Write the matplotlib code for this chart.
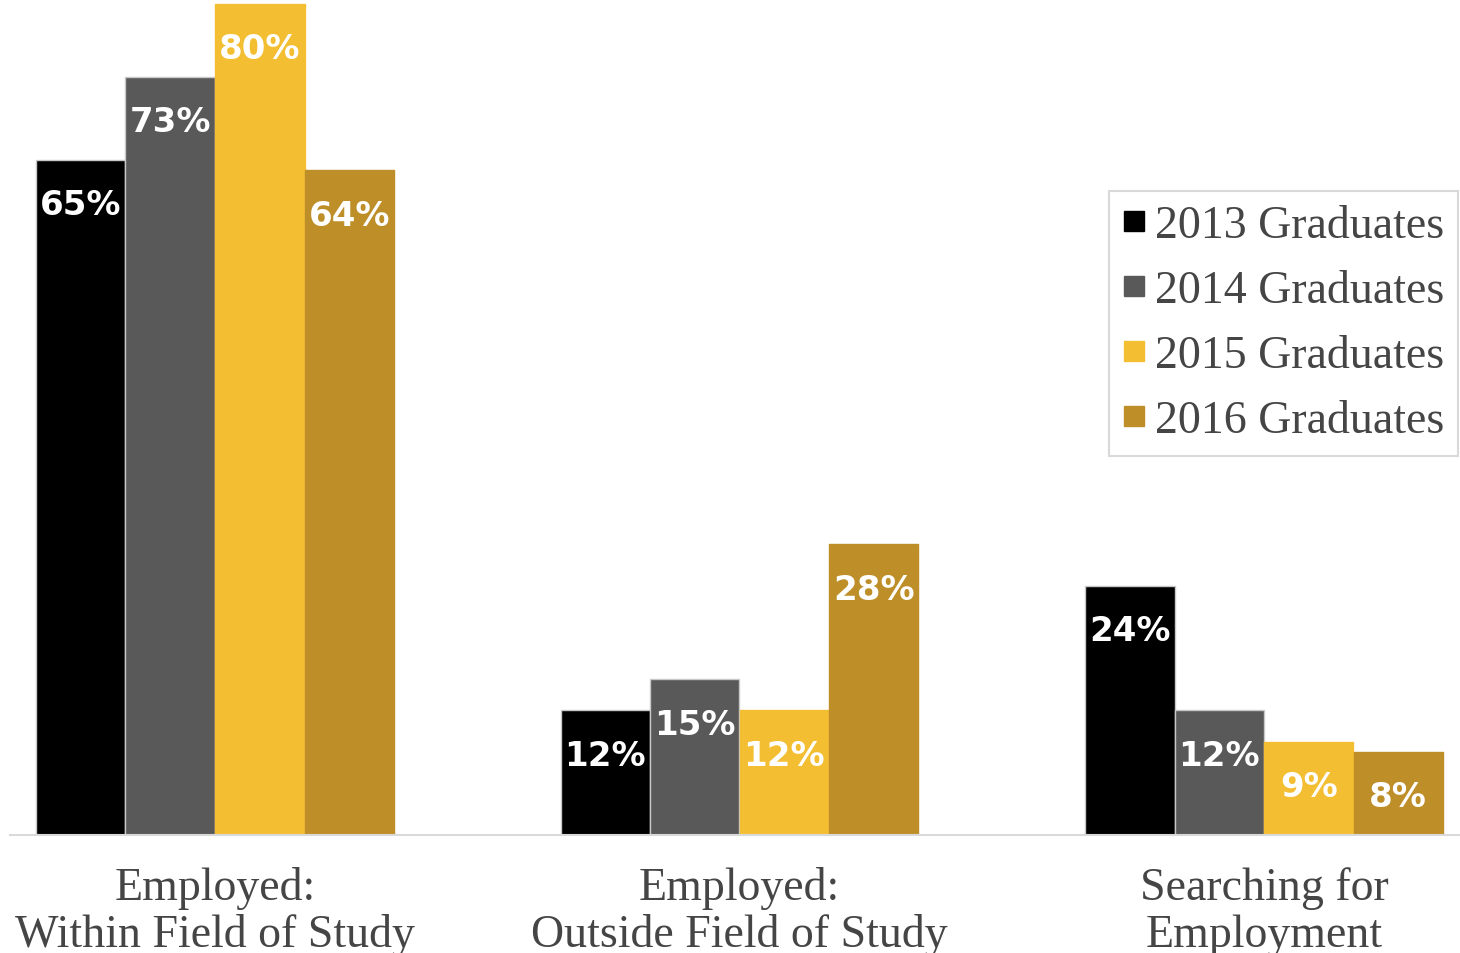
import matplotlib
matplotlib.use("Agg")
import matplotlib.pyplot as plt
from matplotlib.lines import Line2D
import numpy as np

# ---- data ----
categories = [["Employed:", "Within Field of Study"],
              ["Employed:", "Outside Field of Study"],
              ["Searching for", "Employment"]]
series_names = ["2013 Graduates", "2014 Graduates", "2015 Graduates", "2016 Graduates"]
values_2013 = [65, 12, 24]
values_2014 = [73, 15, 12]
values_2015 = [80, 12, 9]
values_2016 = [64, 28, 8]
all_values = [values_2013, values_2014, values_2015, values_2016]

colors = ["#000000", "#595959", "#F4BE32", "#BE8E28"]
edgecolors = ["#c8c8c8", "#c8c8c8", "#F4BE32", "#BE8E28"]

W, H = 1460, 954
fig = plt.figure(figsize=(W / 100, H / 100), dpi=100)
base_px = 836
ax = fig.add_axes([10 / W, (H - base_px) / H, 1450 / W, base_px / H])

px_per_unit = 524.5
left_px = 215 - 10
ax.set_xlim(-left_px / px_per_unit, (1450 - left_px) / px_per_unit)
ax.set_ylim(0, 80 * base_px / 831)

x = np.arange(len(categories))
bw = 89.5 / px_per_unit
for i, (vals, c, ec, name) in enumerate(zip(all_values, colors, edgecolors, series_names)):
    pos = x + (i - 1.5) * bw
    bars = ax.bar(pos, vals, width=bw, color=c, edgecolor=ec, linewidth=1.0, label=name, zorder=2)
    for b, v in zip(bars, vals):
        ax.annotate(f"{v}%", xy=(b.get_x() + b.get_width() / 2, v), xytext=(0, -45 * 0.72),
                    textcoords="offset points", ha="center", va="center",
                    color="white", fontsize=24.5, fontweight="bold", family="DejaVu Sans", zorder=3)

# axes styling
for s in ["top", "right", "left"]:
    ax.spines[s].set_visible(False)
ax.spines["bottom"].set_color("#d9d9d9")
ax.spines["bottom"].set_linewidth(1.5)
ax.set_yticks([])
ax.set_xticks([])

# category labels (two lines)
for xi, lines in zip(x, categories):
    for li, (txt, off_px) in enumerate(zip(lines, [64, 111])):
        ax.annotate(txt, xy=(xi, 0), xycoords=("data", "axes fraction"),
                    xytext=(0, -off_px * 0.72), textcoords="offset points",
                    ha="center", va="baseline", fontsize=33, family="Liberation Serif",
                    color="#454545", annotation_clip=False)

handles = [Line2D([], [], marker="s", linestyle="none", markersize=14.5, color=c) for c in colors]
leg = fig.legend(handles, series_names, loc="upper right",
                 bbox_to_anchor=(1458 / W, (H - 192) / H), bbox_transform=fig.transFigure,
                 prop={"family": "Liberation Serif", "size": 33},
                 frameon=True, fancybox=False, edgecolor="#d9d9d9", framealpha=1,
                 handlelength=0.5, handletextpad=0.2, labelspacing=0.49,
                 borderpad=0.3, borderaxespad=0)
leg.get_frame().set_linewidth(1.5)
for t in leg.get_texts():
    t.set_color("#454545")

fig.savefig("out.png", dpi=100)
